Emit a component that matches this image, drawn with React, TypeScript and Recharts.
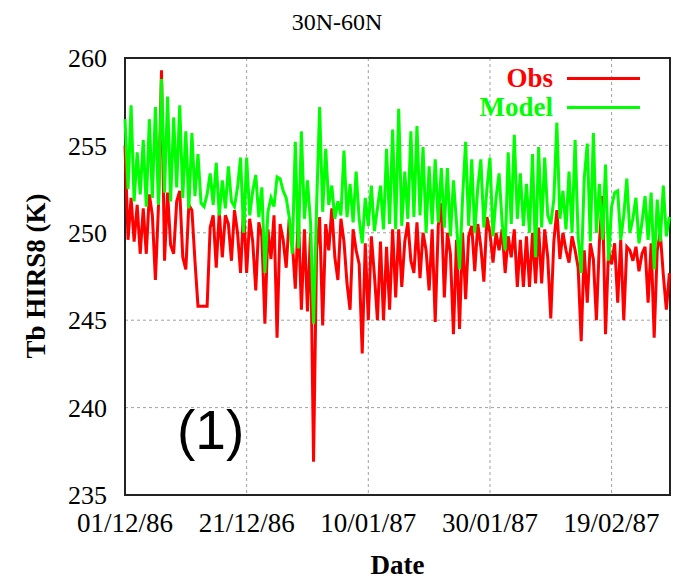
import React from 'react'
import { LineChart, Line, XAxis, YAxis, CartesianGrid, Legend, ReferenceArea, Label } from 'recharts'

// tick labels on the date axis (days since 01/12/86)
const tickDays = [0, 20, 40, 60, 80]
const dateLabels = ['01/12/86', '21/12/86', '10/01/87', '30/01/87', '19/02/87']
const yTicks = [235, 240, 245, 250, 255, 260]
const seriesOrder = ['Obs', 'Model']

// two samples per day
const obs = [
  255.0, 249.6, 252.0, 249.5, 251.6, 248.8, 251.4, 248.8, 252.2, 251.0,
  247.3, 251.5, 259.3, 248.4, 252.3, 249.3, 248.8, 251.8, 252.4, 248.6,
  247.9, 251.6, 251.3, 248.4, 245.8, 245.8, 245.8, 245.8, 250.3, 251.0,
  248.0, 251.2, 248.6, 251.0, 250.5, 248.4, 251.3, 250.0, 247.7, 251.4,
  247.7, 250.8, 249.5, 246.7, 250.6, 249.8, 244.8, 250.2, 248.5, 251.0,
  244.0, 250.5, 249.6, 248.0, 250.8, 249.5, 246.8, 251.0, 245.6, 250.2,
  245.5, 250.0, 236.9, 249.0, 250.9, 244.7, 250.5, 249.0, 251.4, 248.6,
  247.3, 250.8, 249.5, 247.1, 245.6, 250.2, 249.0, 248.2, 243.1, 249.4,
  245.0, 249.8, 247.6, 245.0, 249.5, 245.0, 249.2, 245.6, 250.2, 246.3,
  250.2, 246.9, 249.5, 250.6, 248.4, 247.7, 250.6, 247.4, 250.0, 249.0,
  246.7, 250.2, 244.9, 250.4, 251.7, 246.3, 250.0, 248.8, 244.2, 249.6,
  244.5, 250.0, 246.2, 249.8, 250.4, 247.8, 250.5, 249.2, 247.2, 250.9,
  250.0, 248.3, 250.0, 249.0, 250.2, 247.7, 249.8, 248.6, 250.2, 246.9,
  249.6, 246.9, 249.8, 246.9, 250.0, 247.1, 250.3, 247.1, 250.2, 248.6,
  245.1, 249.5, 251.3, 248.5, 250.0, 249.0, 248.3, 249.8, 249.0, 248.0,
  243.8, 249.0, 246.0, 249.4, 248.5, 245.0, 249.5, 252.1, 244.2, 249.0,
  248.2, 249.4, 246.0, 249.6, 245.0, 249.2, 249.0, 248.4, 249.2, 247.8,
  248.8, 249.2, 246.0, 249.4, 244.0, 249.0, 250.0, 247.6, 245.6, 247.7,
]

const model = [
  256.5, 252.5, 257.3, 251.8, 254.6, 252.2, 255.3, 251.5, 256.5, 252.0,
  257.2, 251.6, 258.8, 252.3, 257.8, 251.8, 256.6, 252.6, 257.3, 252.0,
  255.8, 251.4, 255.7, 252.1, 254.5, 251.7, 251.5, 252.2, 253.4, 251.6,
  254.0, 251.0, 253.0, 251.4, 253.8, 251.8, 251.5, 252.6, 254.3, 250.0,
  254.3, 251.0, 252.4, 253.3, 250.9, 252.6, 247.7, 251.2, 252.0, 251.5,
  253.2, 253.1, 252.4, 252.0, 250.9, 248.8, 255.2, 249.1, 255.8, 250.8,
  253.0, 250.6, 244.8, 251.5, 257.2, 251.2, 254.8, 251.6, 252.7, 250.8,
  251.8, 251.0, 254.7, 250.9, 252.8, 250.6, 253.5, 250.8, 249.4, 252.0,
  250.4, 252.7, 250.1, 251.4, 252.7, 250.2, 254.8, 250.5, 255.9, 250.2,
  257.1, 250.4, 253.5, 250.8, 255.8, 250.9, 256.1, 251.0, 254.9, 250.0,
  253.8, 250.5, 254.2, 250.6, 253.7, 250.3, 253.7, 249.8, 253.0, 250.6,
  247.9, 252.0, 255.2, 250.4, 254.2, 250.0, 252.6, 254.2, 250.3, 252.5,
  254.3, 249.8, 252.0, 253.4, 250.6, 249.0, 254.6, 250.5, 255.6, 250.8,
  253.4, 250.4, 252.8, 250.0, 254.5, 248.6, 254.9, 250.3, 254.3, 251.0,
  250.5, 251.9, 256.3, 250.8, 252.4, 250.2, 253.5, 250.0, 255.3, 249.8,
  247.7, 253.1, 255.1, 249.5, 255.7, 250.0, 252.8, 249.6, 253.9, 248.4,
  251.5, 252.3, 252.4, 249.6, 251.0, 253.1, 250.0, 250.8, 252.0, 249.4,
  250.6, 252.1, 249.6, 252.3, 247.9, 251.9, 249.5, 252.7, 249.8, 250.9,
]

const data = obs.map((v, i) => ({ day: i / 2, Obs: v, Model: model[i] }))

const serif = '"Liberation Serif", "Times New Roman", serif'

function renderLegend(props: any) {
  const items = [...(props.payload || [])].sort(
    (a: any, b: any) => seriesOrder.indexOf(a.value) - seriesOrder.indexOf(b.value)
  )
  return (
    <div style={{ fontFamily: serif, fontWeight: 'bold', fontSize: 27 }}>
      {items.map((p: any) => (
        <div key={p.value} style={{ display: 'flex', alignItems: 'center', justifyContent: 'flex-end', height: 29 }}>
          <span style={{ color: p.color, lineHeight: 1 }}>{p.value}</span>
          <span style={{ display: 'inline-block', width: 73, height: 3, background: p.color, marginLeft: 14 }} />
        </div>
      ))}
    </div>
  )
}

export default function App() {
  return (
    <div style={{ position: 'absolute', left: 0, top: 0, width: 673, height: 580, background: '#fff' }}>
      <LineChart width={673} height={580} data={data} margin={{ top: 58, right: 3, bottom: 0, left: 0 }}>
        <CartesianGrid stroke="#a0a0a0" strokeDasharray="3 3" />
        <XAxis
          dataKey="day"
          type="number"
          domain={[0, 89.6]}
          ticks={tickDays}
          tickFormatter={(v: number) => dateLabels[tickDays.indexOf(v)]}
          height={85}
          tickLine={false}
          axisLine={false}
          tickSize={0}
          tickMargin={18}
          tick={{ fill: '#000', fontSize: 27, fontFamily: serif }}
          interval={0}
        >
          <Label value="Date" position="insideBottom" offset={6} fill="#000" fontSize={27} fontWeight="bold" fontFamily={serif} />
        </XAxis>
        <YAxis
          domain={[235, 260]}
          ticks={yTicks}
          width={125}
          tickLine={false}
          axisLine={false}
          tickSize={0}
          tickMargin={18}
          tick={{ fill: '#000', fontSize: 26, fontFamily: serif }}
          interval={0}
        />
        <Legend
          layout="vertical"
          align="center"
          verticalAlign="middle"
          content={renderLegend}
          wrapperStyle={{ left: 400, top: 64, width: 240 }}
        />
        <Line type="linear" dataKey="Obs" stroke="#ff0000" strokeWidth={3} dot={false} isAnimationActive={false} />
        <Line type="linear" dataKey="Model" stroke="#00ff00" strokeWidth={3} dot={false} isAnimationActive={false} />
        <ReferenceArea x1={0} x2={89.6} y1={235} y2={260} fill="none" stroke="#222" strokeWidth={2} ifOverflow="visible" />
      </LineChart>
      <div style={{ position: 'absolute', left: 337, top: 10, transform: 'translateX(-50%)', fontFamily: serif, fontSize: 24, lineHeight: 1, whiteSpace: 'nowrap' }}>
        30N-60N
      </div>
      <div style={{ position: 'absolute', left: 36, top: 276, transform: 'translate(-50%, -50%) rotate(-90deg)', fontFamily: serif, fontWeight: 'bold', fontSize: 27, lineHeight: 1, whiteSpace: 'nowrap' }}>
        Tb HIRS8 (K)
      </div>
      <div style={{ position: 'absolute', left: 177, top: 403, fontFamily: '"Liberation Sans", Arial, sans-serif', fontSize: 55, lineHeight: 1, whiteSpace: 'nowrap' }}>
        (1)
      </div>
    </div>
  )
}
